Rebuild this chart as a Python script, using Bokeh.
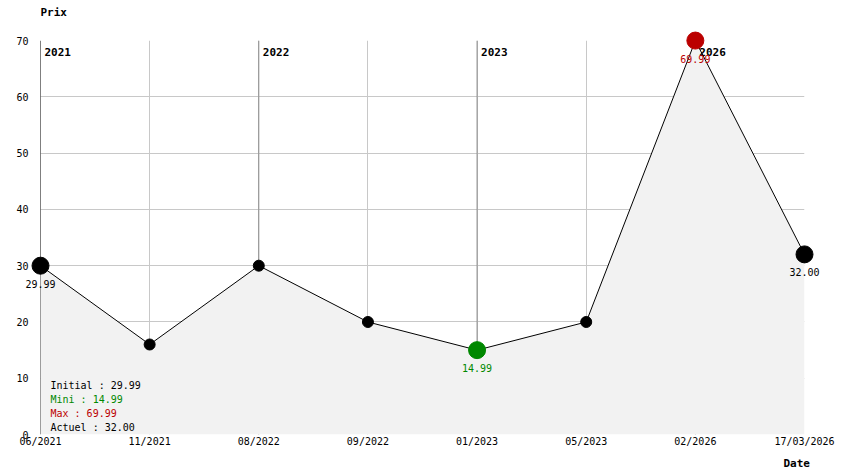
from bokeh.plotting import figure
from bokeh.models import ColumnDataSource, Range1d, FixedTicker
from bokeh.core.properties import value
from bokeh.embed import file_html
from bokeh.resources import INLINE

# ---- data ----
dates = ["06/2021", "11/2021", "08/2022", "09/2022", "01/2023", "05/2023", "02/2026", "17/03/2026"]
prices = [29.99, 15.99, 29.99, 19.99, 14.99, 19.99, 69.99, 32.00]
years = ["2021", "2022", "2023", "2026"]
year_idx = [0, 2, 4, 6]
y_ticks = [0, 10, 20, 30, 40, 50, 60, 70]
y_title = "Prix"
x_title = "Date"

FONT = "DejaVu Sans Mono"
BLACK = "#000000"
GREEN = "#008800"
RED = "#bb0000"
GRID = "#c8c8c8"
YEARLINE = "#8c8c8c"
FILL = "#f2f2f2"

xs = list(range(len(dates)))
i_min = prices.index(min(prices))
i_max = prices.index(max(prices))
i_last = len(prices) - 1

p = figure(width=844, height=474, output_backend="svg", toolbar_location=None, title=None,
           x_range=Range1d(0, len(dates) - 1), y_range=Range1d(y_ticks[0], y_ticks[-1]),
           min_border_left=40, min_border_right=40, min_border_top=40, min_border_bottom=40)
p.outline_line_color = None
p.background_fill_color = "white"
p.border_fill_color = "white"

# axes
for ax in (p.xaxis[0], p.yaxis[0]):
    ax.axis_line_color = None
    ax.major_tick_line_color = None
    ax.minor_tick_line_color = None
    ax.major_tick_out = 0
    ax.major_tick_in = 0
    ax.minor_tick_out = 0
    ax.minor_tick_in = 0
    ax.major_label_text_font = FONT
    ax.major_label_text_font_size = "10px"
    ax.major_label_text_color = BLACK
p.xaxis.ticker = FixedTicker(ticks=xs)
p.xaxis.major_label_overrides = {i: d for i, d in enumerate(dates)}
p.xaxis.major_label_standoff = 1
p.yaxis.ticker = FixedTicker(ticks=y_ticks)
p.yaxis.major_label_standoff = 12

p.xgrid.grid_line_color = GRID
p.ygrid.grid_line_color = GRID

# year separator lines
year_colors = [BLACK if i == 0 else YEARLINE for i in range(len(years))]
p.segment(x0=year_idx, y0=y_ticks[0], x1=year_idx, y1=y_ticks[-1], line_color=year_colors, line_width=1)

# area + line
p.varea(x=xs, y1=0, y2=prices, fill_color=FILL)
p.line(xs, prices, line_color=BLACK, line_width=1)

# year labels
p.text(x=year_idx, y=y_ticks[-1], text=years, text_align="left", text_baseline="middle",
       x_offset=4, y_offset=11, text_font=value(FONT), text_font_size="11px",
       text_font_style="bold", text_color=BLACK, level="overlay")

# axis titles
p.text(x=[0], y=[y_ticks[-1]], text=[y_title], text_align="left", text_baseline="middle",
       y_offset=-28, text_font=value(FONT), text_font_size="11px", text_font_style="bold",
       text_color=BLACK, level="overlay")
p.text(x=[xs[-1]], y=[y_ticks[0]], text=[x_title], text_align="left", text_baseline="middle",
       x_offset=-21, y_offset=29, text_font=value(FONT), text_font_size="11px",
       text_font_style="bold", text_color=BLACK, level="overlay")

# markers
colors = []
sizes = []
for i in xs:
    if i == i_max:
        colors.append(RED)
    elif i == i_min:
        colors.append(GREEN)
    else:
        colors.append(BLACK)
    sizes.append(17 if i in (0, i_min, i_max, i_last) else 11)
p.scatter(xs, prices, size=sizes, fill_color=colors, line_color=colors, level="overlay")

# value labels for key points
key = [0, i_min, i_max, i_last]
lab_src = ColumnDataSource(dict(
    x=key, y=[prices[i] for i in key],
    t=["%.2f" % prices[i] for i in key],
    c=[colors[i] for i in key]))
p.text(x="x", y="y", text="t", text_color="c", source=lab_src, text_align="center",
       text_baseline="middle", y_offset=18, text_font=value(FONT), text_font_size="10px",
       level="overlay")

# summary legend
summary = ["Initial : %.2f" % prices[0], "Mini : %.2f" % min(prices),
           "Max : %.2f" % max(prices), "Actuel : %.2f" % prices[-1]]
sum_colors = [BLACK, GREEN, RED, BLACK]
n = len(summary)
sum_src = ColumnDataSource(dict(x=[0] * n, y=[0] * n, t=summary, c=sum_colors,
                                yo=[-7 - 14 * (n - 1 - k) for k in range(n)]))
p.text(x="x", y="y", text="t", text_color="c", y_offset="yo", x_offset=10, source=sum_src,
       text_align="left", text_baseline="middle", text_font=value(FONT), text_font_size="10px")

open("out.html", "w").write(file_html(p, INLINE))
